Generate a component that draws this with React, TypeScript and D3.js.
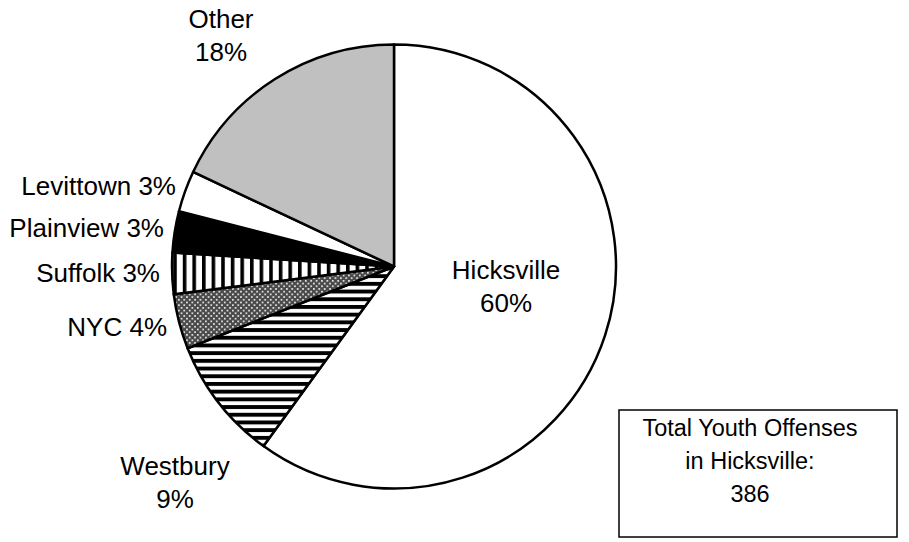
import React from "react";
import * as d3 from "d3";

// Share of youth offenses in Hicksville by offender's home town (percent)
const towns = ["Hicksville", "Westbury", "NYC", "Suffolk", "Plainview", "Levittown", "Other"];
const shares = [60, 9, 4, 3, 3, 3, 18];
const fills = ["#ffffff", "url(#hstripe)", "url(#dots)", "url(#vstripe)", "#000000", "#ffffff", "#c0c0c0"];

// Label layout: text lines, anchor and position per slice
type Label = { lines: string[]; x: number; y: number; anchor: "start" | "middle" | "end" };
const labels: Label[] = [
  { lines: ["Hicksville", "60%"], x: 506, y: 279, anchor: "middle" },
  { lines: ["Westbury", "9%"], x: 175, y: 475, anchor: "middle" },
  { lines: ["NYC 4%"], x: 167, y: 336, anchor: "end" },
  { lines: ["Suffolk 3%"], x: 160, y: 282, anchor: "end" },
  { lines: ["Plainview 3%"], x: 164, y: 237, anchor: "end" },
  { lines: ["Levittown 3%"], x: 176, y: 195, anchor: "end" },
  { lines: ["Other", "18%"], x: 221, y: 28, anchor: "middle" },
];

const totalLines = ["Total Youth Offenses", "in Hicksville:", "386"];

const W = 909;
const H = 542;
const cx = 394;
const cy = 266.5;
const radius = 222;
const font = "Arial, 'Liberation Sans', sans-serif";

export default function App() {
  const pie = d3
    .pie<number>()
    .value((d) => d)
    .sort(null)
    .startAngle(0)
    .endAngle(2 * Math.PI);
  const arcs = pie(shares);
  const arc = d3.arc<d3.PieArcDatum<number>>().innerRadius(0).outerRadius(radius);

  return (
    <svg
      width={W}
      height={H}
      style={{ position: "absolute", left: 0, top: 0, background: "#fff" }}
      fontFamily={font}
    >
      <defs>
        <pattern id="hstripe" patternUnits="userSpaceOnUse" width={8} height={7.7}>
          <rect width={8} height={7.7} fill="#fff" />
          <rect width={8} height={3.9} fill="#000" />
        </pattern>
        <pattern id="vstripe" patternUnits="userSpaceOnUse" width={9.6} height={8}>
          <rect width={9.6} height={8} fill="#fff" />
          <rect width={3.6} height={8} fill="#000" />
        </pattern>
        <pattern id="dots" patternUnits="userSpaceOnUse" width={5.4} height={5.4}>
          <rect width={5.4} height={5.4} fill="#4a4a4a" />
          <rect x={0} y={0} width={1.7} height={1.7} fill="#e8e8e8" />
          <rect x={2.7} y={2.7} width={1.7} height={1.7} fill="#e8e8e8" />
        </pattern>
      </defs>
      <rect width={W} height={H} fill="#fff" />
      <g transform={`translate(${cx},${cy})`}>
        {arcs.map((a, i) => (
          <path
            key={towns[i]}
            d={arc(a) ?? ""}
            fill={fills[i]}
            stroke="#000"
            strokeWidth={2.5}
            strokeLinejoin="round"
          />
        ))}
      </g>
      {labels.map((l, i) => (
        <text key={i} x={l.x} y={l.y} textAnchor={l.anchor} fontSize={26} fill="#000">
          {l.lines.map((t, j) => (
            <tspan key={j} x={l.x} dy={j === 0 ? 0 : 32.5}>
              {t}
            </tspan>
          ))}
        </text>
      ))}
      <rect x={619} y={410} width={278} height={127} fill="#fff" stroke="#000" strokeWidth={1.5} />
      <text x={750} y={436} textAnchor="middle" fontSize={23.5} fill="#000">
        {totalLines.map((t, j) => (
          <tspan key={j} x={750} dy={j === 0 ? 0 : 33}>
            {t}
          </tspan>
        ))}
      </text>
    </svg>
  );
}
